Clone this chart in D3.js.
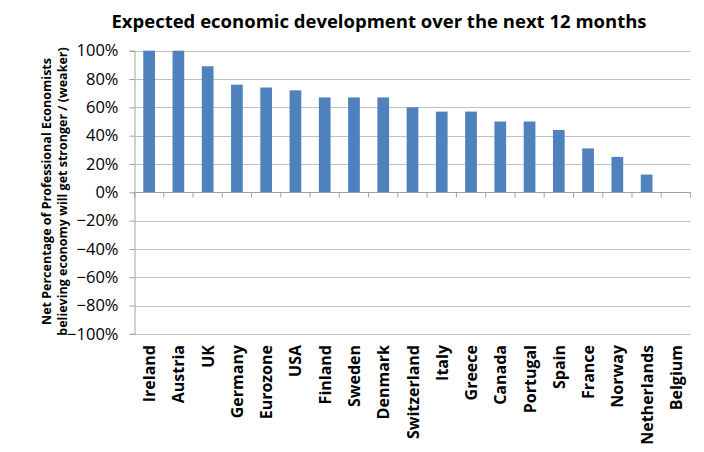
<!DOCTYPE html>
<html><head><meta charset="utf-8">
<script src="https://cdn.jsdelivr.net/npm/d3@7"></script>
<style>body{margin:0;background:#fff}svg{display:block}</style>
</head><body>
<svg id="c" width="704" height="452"></svg>
<script>
const categories = ["Ireland","Austria","UK","Germany","Eurozone","USA","Finland","Sweden","Denmark","Switzerland","Italy","Greece","Canada","Portugal","Spain","France","Norway","Netherlands","Belgium"];
const values = [1.00,1.00,0.89,0.76,0.74,0.72,0.67,0.67,0.67,0.60,0.57,0.57,0.50,0.50,0.44,0.31,0.25,0.125,0.0];
const yTicks = [-1,-0.8,-0.6,-0.4,-0.2,0,0.2,0.4,0.6,0.8,1];
const title = "Expected economic development over the next 12 months";
const yTitle = ["Net Percentage of Professional Economists","believing economy will get stronger / (weaker)"];

(function () {
const font = "'Open Sans', sans-serif";
const svg = d3.select("#c");
const pL = 134.5, pR = 690.5, pT = 50.7, pB = 333.9;
const x = d3.scaleBand().domain(categories).range([pL, pR]).paddingInner(0.6).paddingOuter(0.3);
const xb = d3.scaleBand().domain(categories).range([pL, pR]);
const y = d3.scaleLinear().domain([-1, 1]).range([pB, pT]);

// gridlines
svg.append("g").selectAll("line").data(yTicks).join("line")
  .attr("x1", pL).attr("x2", pR)
  .attr("y1", d => Math.round(y(d)) + 0.5).attr("y2", d => Math.round(y(d)) + 0.5)
  .attr("stroke", "#c0c0c0").attr("stroke-width", 1);

// y axis
const yAxis = svg.append("g").attr("transform", `translate(${pL},0)`)
  .call(d3.axisLeft(y).tickValues(yTicks).tickFormat(d3.format(".0%")).tickSize(5).tickPadding(11));
yAxis.select(".domain").attr("stroke", "#a0a0a0");
yAxis.selectAll(".tick line").attr("stroke", "#a0a0a0");
yAxis.selectAll("text").attr("font-family", font).attr("font-size", 16.5).attr("fill", "#000");

// bars
svg.append("g").selectAll("rect").data(categories).join("rect")
  .attr("x", d => x(d)).attr("width", x.bandwidth())
  .attr("y", (d, i) => y(Math.max(0, values[i])))
  .attr("height", (d, i) => Math.abs(y(values[i]) - y(0)))
  .attr("fill", "#4F81BD");

// x axis at zero
const xAxis = svg.append("g").attr("transform", `translate(0,${Math.round(y(0)) + 0.5})`);
xAxis.append("line").attr("x1", pL).attr("x2", pR).attr("stroke", "#a0a0a0");
xAxis.selectAll("line.t").data(categories.concat(["_end"])).join("line").attr("class", "t")
  .attr("x1", (d, i) => pL + i * xb.step()).attr("x2", (d, i) => pL + i * xb.step())
  .attr("y1", 0).attr("y2", 5).attr("stroke", "#a0a0a0");

// category labels
svg.append("g").selectAll("text").data(categories).join("text")
  .attr("transform", d => `translate(${xb(d) + xb.bandwidth() / 2 + 6},${345}) rotate(-90)`)
  .attr("text-anchor", "end")
  .attr("font-family", font).attr("font-size", 16).attr("font-weight", "bold")
  .text(d => d);

// title
svg.append("text").attr("x", 379).attr("y", 28).attr("text-anchor", "middle")
  .attr("font-family", font).attr("font-size", 18.5).attr("font-weight", "bold").text(title);

// y title
svg.append("g").attr("transform", `translate(0,${191.5}) rotate(-90)`)
  .selectAll("text").data(yTitle).join("text")
  .attr("x", 0).attr("y", (d, i) => 51 + i * 16)
  .attr("text-anchor", "middle")
  .attr("font-family", font).attr("font-size", 12.5).attr("font-weight", "bold")
  .text(d => d);
})();
</script>
</body></html>
